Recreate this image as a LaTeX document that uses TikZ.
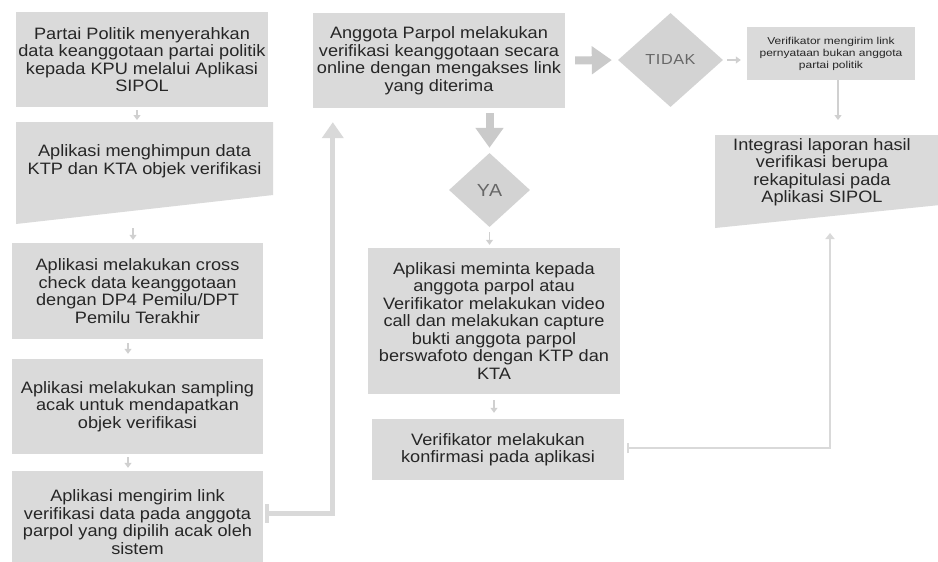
\documentclass[tikz,border=0pt]{standalone}
\usepackage{fontspec}
\setmainfont{Liberation Sans}[FakeStretch=1.1]
\newfontfamily\smallfont{Liberation Sans}[FakeStretch=1.2]
\newfontfamily\diafont{Liberation Sans}[FakeStretch=1.12, LetterSpace=4]
\usetikzlibrary{arrows.meta,shapes.geometric}
\definecolor{boxgray}{HTML}{DADADA}
\definecolor{diagray}{HTML}{D3D3D3}
\definecolor{txt}{HTML}{262626}
\definecolor{dtxt}{HTML}{676767}
\definecolor{arrgray}{HTML}{CACACA}
\definecolor{thinc}{HTML}{D0D0D0}
\definecolor{loopc}{HTML}{D9D9D9}
\begin{document}
\begin{tikzpicture}[x=1pt,y=-1pt,
  box/.style={fill=boxgray, text=txt, align=center, inner sep=0pt, font=\fontsize{16.5}{17.5}\selectfont},
  lbl/.style={text=txt, align=center, inner sep=0pt, font=\fontsize{16.5}{17.5}\selectfont},
  smallbox/.style={fill=boxgray, text=txt, align=center, inner sep=0pt, font=\smallfont\fontsize{10}{12}\selectfont},
  dia/.style={diamond, fill=diagray, text=dtxt, inner sep=0pt},
  smallarr/.style={draw=thinc, line width=1.8pt, -{Triangle[width=7pt,length=5pt]}},
  thickarr/.style={draw=arrgray, line width=8pt, -{Triangle[width=27pt,length=20pt]}},
  looparr/.style={draw=loopc, line width=5pt, {Bar[width=19pt,line width=4pt]}-{Triangle[width=21pt,length=16pt]}},
  konfarr/.style={draw=loopc, line width=2pt, {Bar[width=10pt]}-{Triangle[width=9pt,length=6pt]}}
]
\fill[white] (0,0) rectangle (938,562);
\useasboundingbox (0,0) rectangle (938,562);

% left column
\node[box, minimum width=252pt, minimum height=95pt] (b1) at (142,59.5)
  {Partai Politik menyerahkan\\data keanggotaan partai politik\\kepada KPU melalui Aplikasi\\SIPOL};
\fill[boxgray] (16,122) -- (273,122) -- (273,195) -- (16,224) -- cycle;
\coordinate (b2top) at (137,122);
\coordinate (b2bot) at (133,211);
\node[lbl] (b2) at (144.5,161) {Aplikasi menghimpun data\\KTP dan KTA objek verifikasi};
\node[box, minimum width=251pt, minimum height=96pt] (b3) at (137.5,291)
  {Aplikasi melakukan cross\\check data keanggotaan\\dengan DP4 Pemilu/DPT\\Pemilu Terakhir};
\node[box, minimum width=251pt, minimum height=95pt] (b4) at (137.5,406.5)
  {Aplikasi melakukan sampling\\acak untuk mendapatkan\\objek verifikasi};
\node[box, minimum width=251pt, minimum height=102pt] (b5) at (137.5,522)
  {Aplikasi mengirim link\\verifikasi data pada anggota\\parpol yang dipilih acak oleh\\sistem};

% middle column
\node[box, minimum width=252pt, minimum height=95pt] (b6) at (439,60.5)
  {Anggota Parpol melakukan\\verifikasi keanggotaan secara\\online dengan mengakses link\\yang diterima};
\node[dia, minimum width=81pt, minimum height=74pt, font=\diafont\fontsize{17.5}{18}\selectfont] (ya) at (489.5,190) {YA};
\node[box, minimum width=252pt, minimum height=146pt] (b9) at (494,321)
  {Aplikasi meminta kepada\\anggota parpol atau\\Verifikator melakukan video\\call dan melakukan capture\\bukti anggota parpol\\berswafoto dengan KTP dan\\KTA};
\node[box, minimum width=252pt, minimum height=61pt] (b10) at (498,449.5)
  {Verifikator melakukan\\konfirmasi pada aplikasi};

% right column
\node[dia, minimum width=105pt, minimum height=94pt, font=\diafont\fontsize{14.5}{16}\selectfont] (tidak) at (670.5,60) {TIDAK};
\node[smallbox, minimum width=168pt, minimum height=53pt] (b7) at (831,53.5)
  {Verifikator mengirim link\\pernyataan bukan anggota\\partai politik};
\fill[boxgray] (715,135) -- (940,135) -- (940,205) -- (715,228) -- cycle;
\coordinate (b8top) at (838,135);
\coordinate (b8bot) at (830,216);
\node[lbl] (b8) at (822,172) {Integrasi laporan hasil\\verifikasi berupa\\rekapitulasi pada\\Aplikasi SIPOL};

% connectors
\draw[smallarr, shorten <=3pt, shorten >=2pt] (b1.south -| b2top) -- (b2top);
\draw[smallarr, shorten <=17pt, shorten >=3pt] (b2bot) -- (b2bot |- b3.north);
\draw[smallarr, shorten <=4pt, shorten >=5pt] ([xshift=-9.5pt]b3.south) -- ([xshift=-9.5pt]b4.north);
\draw[smallarr, shorten <=3pt, shorten >=3pt] ([xshift=-9.5pt]b4.south) -- ([xshift=-9.5pt]b5.north);
\draw[looparr, shorten <=2pt, shorten >=14pt] ([yshift=9pt]b5.east) -| ([xshift=20pt]b6.south west);

\draw[thickarr, shorten <=5pt, shorten >=5pt] (b6.south -| ya) -- (ya.north);
\draw[thickarr, shorten <=10pt, shorten >=6pt] (b6.east) -- (tidak.west);
\draw[smallarr, shorten <=4pt, shorten >=6pt] (tidak.east) -- (b7.west |- tidak.east);
\draw[smallarr, shorten >=15pt] (b7.south -| b8top) -- (b8top);
\draw[smallarr, shorten <=5pt, shorten >=3pt] (ya.south) -- (b9.north -| ya.south);
\draw[smallarr, shorten <=6pt, shorten >=6pt] (b9.south) -- (b9.south |- b10.north);
\draw[konfarr, shorten <=3pt, shorten >=17pt] ([yshift=1.5pt]b10.east) -| (b8bot);
\end{tikzpicture}
\end{document}
